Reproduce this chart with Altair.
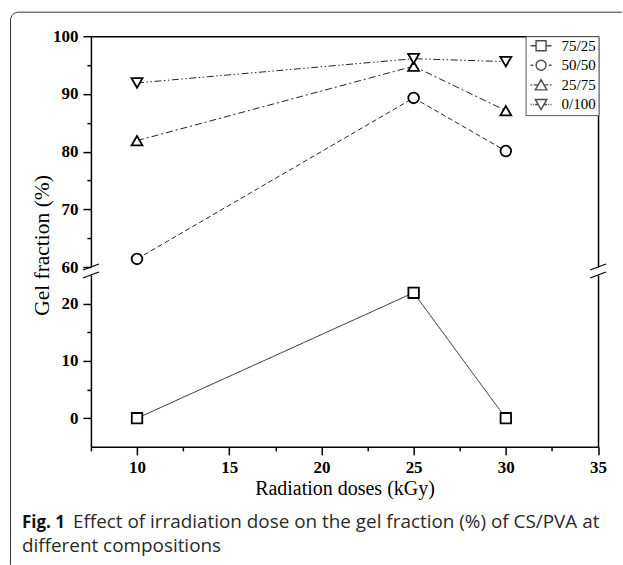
import altair as alt
import pandas as pd

# ---------------- data ----------------
doses = [10, 25, 30]
series_names = ["75/25", "50/50", "25/75", "0/100"]
gel_75_25 = [0.0, 21.9, 0.0]
gel_50_50 = [61.4, 89.3, 80.1]
gel_25_75 = [81.9, 94.8, 87.1]
gel_0_100 = [91.9, 96.1, 95.6]

x_ticks = [7.5, 10, 12.5, 15, 17.5, 20, 22.5, 25, 27.5, 30, 32.5, 35]
y_ticks_upper = [60, 65, 70, 75, 80, 85, 90, 95, 100]
y_ticks_lower = [0, 5, 10, 15, 20]

x_title = "Radiation doses (kGy)"
y_title = "Gel fraction (%)"
caption_label = "Fig. 1"
caption_lines = ["Effect of irradiation dose on the gel fraction (%) of CS/PVA at",
                 "different compositions"]

rows = []
for name, vals in zip(series_names, [gel_75_25, gel_50_50, gel_25_75, gel_0_100]):
    for d, v in zip(doses, vals):
        rows.append({"dose": d, "gel": v, "series": name})
df = pd.DataFrame(rows)
top_df = df[df["series"] != "75/25"]
bot_df = df[df["series"] == "75/25"]
one = pd.DataFrame({"k": [0]})

# ---------------- styles ----------------
SERIF = "Liberation Serif"
SANS = "Open Sans"
W, HT, HB, GAP = 507.5, 231, 172, 8

dash_range = [[1, 0], [5, 3], [7, 3, 2, 3], [7, 2.5, 1.5, 2.5, 1.5, 2.5]]
shape_range = ["square", "circle", "triangle-up", "triangle-down"]
size_range = [110, 120, 190, 190]
legend_paths = [
    "M-2.1,0L-1,0M1,0L2.1,0M-1,-1L1,-1L1,1L-1,1Z",
    "M-2.1,0L-1.55,0M1.55,0L2.1,0M1,0A1,1 0 1,1 -1,0A1,1 0 1,1 1,0Z",
    "M-2.1,0L-1.75,0M-1.45,0L-0.6,0M0.6,0L1.45,0M1.75,0L2.1,0M0,-1.05L1.15,1L-1.15,1Z",
    "M-2.1,0L-1.9,0M-1.65,0L-1.45,0M-1.2,0L-0.58,0M0.58,0L1.2,0M1.45,0L1.65,0M1.9,0L2.1,0M0,1.05L1.15,-1L-1.15,-1Z",
]

x_scale = alt.Scale(domain=[7.5, 35], nice=False, zero=False)
dash_enc = alt.StrokeDash("series:N", scale=alt.Scale(domain=series_names, range=dash_range), legend=None)
shape_enc = alt.Shape("series:N", scale=alt.Scale(domain=series_names, range=shape_range), legend=None)
size_enc = alt.Size("series:N", scale=alt.Scale(domain=series_names, range=size_range), legend=None)

frame_axis_x = alt.Axis(orient="top", labels=False, ticks=False, title=None, grid=False)
frame_axis_y = alt.Axis(orient="right", labels=False, ticks=False, title=None, grid=False)

# ---------------- top panel (60-100) ----------------
top_y_scale = alt.Scale(domain=[60, 100], nice=False, zero=False)
top_y_axis = alt.Axis(
    values=y_ticks_upper,
    labelExpr="datum.value % 10 === 0 ? datum.label : ''",
    tickSize={"condition": {"test": "datum.value % 10 !== 0", "value": 4}, "value": 8},
    title=y_title, titleX=-37, titleY=209, titleAngle=-90, titleFontSize=21.5,
)

top_lines = alt.Chart(top_df).mark_line(strokeWidth=1, color="#222").encode(
    x=alt.X("dose:Q", scale=x_scale, axis=frame_axis_x),
    y=alt.Y("gel:Q", scale=top_y_scale, axis=top_y_axis),
    strokeDash=dash_enc,
    detail="series:N",
)
top_points = alt.Chart(top_df).mark_point(filled=True, fill="white", stroke="black", strokeWidth=1.8, opacity=1).encode(
    x=alt.X("dose:Q", scale=x_scale, axis=None),
    y=alt.Y("gel:Q", scale=top_y_scale, axis=frame_axis_y),
    shape=shape_enc,
    size=size_enc,
)
legend_carrier = alt.Chart(top_df).transform_filter("false").mark_point(
    filled=False, color="black", strokeWidth=1.3
).encode(
    shape=alt.Shape("series:N", scale=alt.Scale(domain=series_names, range=legend_paths),
                    legend=alt.Legend(
                        title=None, orient="top-right", offset=0, padding=2, rowPadding=2.6,
                        symbolSize=100, symbolOffset=6, labelOffset=13,
                        labelFont=SERIF, labelFontSize=15, labelFontWeight="normal", labelColor="black",
                        labelExpr="datum.label + '\u00a0\u00a0'",
                        strokeColor="#555", fillColor="white",
                        symbolStrokeWidth=1.4, symbolStrokeColor="black",
                    ))
)

border = alt.Chart(one).mark_rect(
    fill="white", fillOpacity=0, stroke="#333", strokeWidth=1, cornerRadiusTopLeft=8,
    strokeDash=[604, 1165, 560, 4000],
).encode(x=alt.value(-80.5), x2=alt.value(531.5), y=alt.value(-24), y2=alt.value(529))

brk = alt.Chart(one).mark_rule(color="black", strokeWidth=1.3)
top_brk_l = brk.encode(x=alt.value(-8), x2=alt.value(8), y=alt.value(HT + 3), y2=alt.value(HT - 3))
top_brk_r = brk.encode(x=alt.value(W - 8), x2=alt.value(W + 8), y=alt.value(HT + 3), y2=alt.value(HT - 3))

top = alt.layer(border, top_lines, top_points, legend_carrier, top_brk_l, top_brk_r).resolve_axis(
    x="independent", y="independent"
).resolve_scale(shape="independent").properties(width=W, height=HT)

# ---------------- bottom panel (-5-25) ----------------
bot_y_scale = alt.Scale(domain=[-5, 25], nice=False, zero=False)
bot_y_axis = alt.Axis(
    values=y_ticks_lower,
    labelExpr="datum.value % 10 === 0 ? datum.label : ''",
    tickSize={"condition": {"test": "datum.value % 10 !== 0", "value": 4}, "value": 8},
    title=None,
)
bot_x_axis = alt.Axis(
    orient="bottom", values=x_ticks,
    labelExpr="datum.value % 5 === 0 ? datum.label : ''",
    tickSize={"condition": {"test": "datum.value % 5 !== 0", "value": 4}, "value": 8},
    title=x_title, titlePadding=3, titleFontSize=20,
)

bot_lines = alt.Chart(bot_df).mark_line(strokeWidth=1, color="#222").encode(
    x=alt.X("dose:Q", scale=x_scale, axis=bot_x_axis),
    y=alt.Y("gel:Q", scale=bot_y_scale, axis=bot_y_axis),
    strokeDash=dash_enc,
    detail="series:N",
)
bot_points = alt.Chart(bot_df).mark_point(filled=True, fill="white", stroke="black", strokeWidth=1.8, opacity=1).encode(
    x=alt.X("dose:Q", scale=x_scale, axis=None),
    y=alt.Y("gel:Q", scale=bot_y_scale, axis=frame_axis_y),
    shape=shape_enc,
    size=size_enc,
)
bot_brk_l = brk.encode(x=alt.value(-8), x2=alt.value(8), y=alt.value(3), y2=alt.value(-3))
bot_brk_r = brk.encode(x=alt.value(W - 8), x2=alt.value(W + 8), y=alt.value(3), y2=alt.value(-3))

# caption (figure legend text below the plot)
cap_fig = alt.Chart(pd.DataFrame({"t": [caption_label]})).mark_text(
    align="left", baseline="alphabetic", font=SANS, fontSize=17, fontWeight="bold", color="#111"
).encode(text="t:N", x=alt.value(-69), y=alt.value(253.5))
cap_l1 = alt.Chart(pd.DataFrame({"t": [caption_lines[0]]})).mark_text(
    align="left", baseline="alphabetic", font=SANS, fontSize=18.9, color="#2a2a2a"
).encode(text="t:N", x=alt.value(-18), y=alt.value(253.5))
cap_l2 = alt.Chart(pd.DataFrame({"t": [caption_lines[1]]})).mark_text(
    align="left", baseline="alphabetic", font=SANS, fontSize=18.9, color="#2a2a2a"
).encode(text="t:N", x=alt.value(-69), y=alt.value(277.5))

bottom = alt.layer(bot_lines, bot_points, bot_brk_l, bot_brk_r, cap_fig, cap_l1, cap_l2).resolve_axis(
    x="independent", y="independent"
).properties(width=W, height=HB)

chart = alt.vconcat(top, bottom, spacing=GAP, bounds="flush").properties(
    padding={"left": 10, "top": 11, "right": 0, "bottom": 0},
    background="white",
).configure_view(strokeWidth=0).configure_axis(
    grid=False, domainColor="black", tickColor="black", labelColor="black", titleColor="black",
    domainWidth=1.5, tickWidth=1.5, labelFont=SERIF, labelFontWeight="bold", labelFontSize=17,
    titleFont=SERIF, titleFontWeight="normal", titleFontSize=17, labelFlush=False,
    labelOverlap=False, labelPadding=5, tickSize=8,
)

chart.save("out.html", embed_options={"renderer": "svg", "actions": False})
